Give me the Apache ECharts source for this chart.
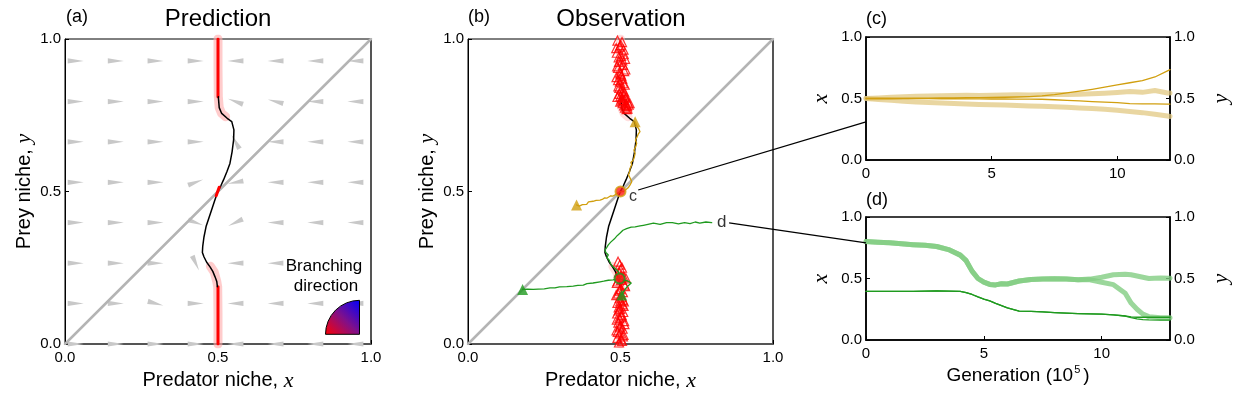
<!DOCTYPE html>
<html>
<head>
<meta charset="utf-8">
<script src="https://cdn.jsdelivr.net/npm/echarts@6/dist/echarts.min.js"></script>
<style>
html, body { margin: 0; padding: 0; background: #fff; }
#chart { width: 1233px; height: 398px; }
</style>
</head>
<body>
<div id="chart"></div>
<script>
// ---- values ----

// (a) wedge field: grid of columns / rows, angle in degrees (0 = points right)
var wedgeCols = [0.035, 0.166, 0.296, 0.427, 0.557, 0.688, 0.818, 0.949];
var wedgeRows = [0.928, 0.795, 0.663, 0.53, 0.398, 0.265, 0.133, 0.0];
var wedgeAngles = [
  [0, 0, 0, 0, 180, 180, 180, 180],
  [0, 0, 0, 0, 160, 165, 180, 180],
  [0, 0, 0, 0, 120, 180, 180, 180],
  [0, 0, 0, 20, 190, 180, 180, 180],
  [0, 0, 0, -20, 205, 180, 180, 180],
  [0, 0, 0, -65, 180, 180, 180, 180],
  [0, 0, -15, 0, 180, 180, 180, 180],
  [0, 0, 0, 0, 180, 180, 180, 180]
];

// singular curve (black), shared by (a) and (b)
var curveX = [0.501, 0.504, 0.512, 0.53, 0.545, 0.552, 0.551, 0.546, 0.539, 0.529, 0.518, 0.509, 0.499, 0.489, 0.479, 0.47, 0.461, 0.454, 0.45, 0.449, 0.454, 0.463, 0.474, 0.483, 0.49, 0.496, 0.498];
var curveY = [0.811, 0.775, 0.756, 0.74, 0.729, 0.702, 0.669, 0.63, 0.592, 0.565, 0.538, 0.518, 0.499, 0.47, 0.439, 0.412, 0.385, 0.35, 0.319, 0.3, 0.286, 0.268, 0.253, 0.238, 0.221, 0.205, 0.188];
var redTopY = [0.811, 1.0];
var redBotY = [0.0, 0.188];
var redLineX = [0.5, 0.5];
var redMidX = [0.494, 0.504];
var redMidY = [0.486, 0.514];
var pinkTopX = [0.5, 0.5, 0.501, 0.504, 0.512, 0.525];
var pinkTopY = [1.0, 0.9, 0.811, 0.775, 0.756, 0.745];
var pinkBotX = [0.475, 0.488, 0.496, 0.499, 0.5, 0.5];
var pinkBotY = [0.255, 0.235, 0.205, 0.188, 0.1, 0.0];
var diagX = [0, 1];
var diagY = [0, 1];

// (b) red open triangles
var triTopX = [0.49, 0.505, 0.497, 0.51, 0.488, 0.502, 0.515, 0.495, 0.508, 0.492, 0.512, 0.5, 0.487, 0.506, 0.498, 0.514, 0.493, 0.503, 0.509, 0.496, 0.511, 0.49, 0.504, 0.513, 0.499, 0.507, 0.518, 0.51, 0.522, 0.515, 0.527, 0.52, 0.53, 0.524,
  0.501, 0.486, 0.511, 0.494, 0.506, 0.489, 0.516, 0.498, 0.503, 0.492, 0.509, 0.496, 0.513, 0.5, 0.518, 0.505, 0.523, 0.512];
var triTopY = [0.995, 0.99, 0.975, 0.965, 0.955, 0.945, 0.935, 0.925, 0.915, 0.905, 0.895, 0.885, 0.875, 0.87, 0.86, 0.85, 0.845, 0.835, 0.83, 0.82, 0.815, 0.81, 0.805, 0.8, 0.795, 0.79, 0.785, 0.8, 0.78, 0.775, 0.785, 0.77, 0.79, 0.795,
  0.98, 0.97, 0.95, 0.94, 0.93, 0.91, 0.9, 0.89, 0.88, 0.865, 0.855, 0.84, 0.825, 0.812, 0.808, 0.798, 0.772, 0.782];
var triBotX = [0.495, 0.505, 0.49, 0.51, 0.498, 0.487, 0.507, 0.5, 0.493, 0.512, 0.496, 0.503, 0.489, 0.509, 0.499, 0.494, 0.506, 0.49, 0.511, 0.497, 0.504, 0.492, 0.508, 0.5, 0.515, 0.488, 0.502, 0.51, 0.495, 0.505, 0.498, 0.492,
  0.502, 0.491, 0.508, 0.497, 0.513, 0.488, 0.504, 0.494, 0.51, 0.499, 0.486, 0.507, 0.496, 0.512, 0.49, 0.503, 0.518, 0.5];
var triBotY = [0.005, 0.01, 0.02, 0.03, 0.035, 0.045, 0.05, 0.06, 0.07, 0.075, 0.085, 0.09, 0.1, 0.105, 0.115, 0.12, 0.13, 0.135, 0.14, 0.15, 0.155, 0.165, 0.17, 0.18, 0.19, 0.2, 0.21, 0.22, 0.235, 0.25, 0.26, 0.27,
  0.015, 0.04, 0.025, 0.055, 0.065, 0.08, 0.095, 0.11, 0.125, 0.14, 0.16, 0.145, 0.175, 0.195, 0.205, 0.225, 0.215, 0.245];

// (b) gold trajectory, two branches from (0.5, 0.5)
var goldAX = [0.498, 0.49, 0.484, 0.476, 0.468, 0.455, 0.448, 0.44, 0.433, 0.42, 0.41, 0.405, 0.395, 0.392, 0.389, 0.375, 0.365, 0.356];
var goldAY = [0.499, 0.494, 0.491, 0.485, 0.486, 0.478, 0.479, 0.474, 0.472, 0.471, 0.468, 0.467, 0.466, 0.46, 0.458, 0.457, 0.452, 0.456];
var goldBX = [0.498, 0.51, 0.515, 0.525, 0.531, 0.537, 0.532, 0.526, 0.53, 0.531, 0.537, 0.534, 0.542, 0.545, 0.548, 0.544, 0.55, 0.553, 0.549, 0.555, 0.558, 0.564, 0.56, 0.555, 0.552, 0.548];
var goldBY = [0.499, 0.5, 0.505, 0.512, 0.521, 0.532, 0.543, 0.555, 0.565, 0.575, 0.588, 0.595, 0.603, 0.612, 0.625, 0.636, 0.647, 0.658, 0.669, 0.68, 0.688, 0.696, 0.705, 0.712, 0.72, 0.729];
var goldEndX = [0.356, 0.548];
var goldEndY = [0.456, 0.729];

// (b) green trajectory: from (0.8, 0.4) down to branching point, then two branches
var greenX = [0.799, 0.78, 0.76, 0.745, 0.728, 0.71, 0.69, 0.67, 0.651, 0.63, 0.608, 0.59, 0.575, 0.564, 0.548, 0.535, 0.52, 0.508, 0.498, 0.49, 0.482, 0.476, 0.468, 0.46, 0.455, 0.449, 0.452, 0.46, 0.455, 0.462, 0.46, 0.468, 0.476, 0.485, 0.493, 0.496];
var greenY = [0.398, 0.4, 0.396, 0.4, 0.395, 0.398, 0.394, 0.398, 0.398, 0.392, 0.396, 0.392, 0.389, 0.387, 0.384, 0.383, 0.378, 0.373, 0.363, 0.356, 0.347, 0.341, 0.334, 0.325, 0.317, 0.308, 0.3, 0.292, 0.283, 0.276, 0.27, 0.262, 0.253, 0.245, 0.237, 0.215];
var greenAX = [0.496, 0.485, 0.476, 0.46, 0.445, 0.433, 0.41, 0.39, 0.378, 0.36, 0.345, 0.324, 0.3, 0.285, 0.269, 0.25, 0.23, 0.214, 0.195, 0.179];
var greenAY = [0.215, 0.213, 0.21, 0.209, 0.206, 0.204, 0.2, 0.198, 0.193, 0.192, 0.19, 0.188, 0.187, 0.184, 0.184, 0.181, 0.18, 0.179, 0.18, 0.179];
var greenBX = [0.496, 0.51, 0.525, 0.535, 0.531, 0.52, 0.512, 0.504];
var greenBY = [0.215, 0.21, 0.206, 0.2, 0.195, 0.186, 0.175, 0.161];
var greenEndX = [0.179, 0.504];
var greenEndY = [0.179, 0.161];

// branching points (red dots)
var branchX = [0.5, 0.497];
var branchY = [0.5, 0.215];

// labels c / d and the leader lines to panels (c), (d)
var labelC = [0.541, 0.482];
var labelD = [0.832, 0.398];
var leadC = [[0.558, 0.505], [0, 0.31]];
var leadD = [[0.856, 0.397], [0, 0.79]];

// (c) time series, generation in 1e5
var tC = [0, 0.5, 1, 1.5, 2, 2.5, 3, 3.5, 4, 4.5, 5, 5.5, 6, 6.5, 7, 7.5, 8, 8.5, 9, 9.5, 10, 10.5, 11, 11.5, 12, 12.1];
var cXUp = [0.5, 0.505, 0.51, 0.515, 0.518, 0.52, 0.522, 0.524, 0.526, 0.525, 0.527, 0.528, 0.53, 0.529, 0.53, 0.532, 0.533, 0.535, 0.538, 0.542, 0.548, 0.556, 0.55, 0.565, 0.545, 0.545];
var cXLo = [0.5, 0.492, 0.485, 0.478, 0.472, 0.468, 0.464, 0.46, 0.456, 0.452, 0.45, 0.447, 0.443, 0.44, 0.437, 0.432, 0.428, 0.423, 0.418, 0.412, 0.404, 0.395, 0.385, 0.372, 0.358, 0.354];
var cYUp = [0.5, 0.5, 0.5, 0.501, 0.502, 0.503, 0.504, 0.505, 0.506, 0.507, 0.508, 0.51, 0.512, 0.516, 0.522, 0.532, 0.545, 0.56, 0.575, 0.592, 0.61, 0.628, 0.645, 0.675, 0.725, 0.735];
var cYLo = [0.5, 0.5, 0.5, 0.5, 0.499, 0.499, 0.498, 0.498, 0.497, 0.497, 0.496, 0.496, 0.495, 0.495, 0.494, 0.49, 0.485, 0.48, 0.475, 0.47, 0.466, 0.458, 0.456, 0.456, 0.455, 0.455];

// (d) time series
var tD = [0, 0.5, 1, 1.5, 2, 2.5, 3, 3.5, 4, 4.25, 4.5, 4.75, 5, 5.25, 5.5, 5.75, 6, 6.5, 7, 7.5, 8, 8.5, 9, 9.5, 10, 10.5, 11, 11.25, 11.5, 11.75, 12, 12.5, 12.9];
var dXUp = [0.8, 0.795, 0.79, 0.782, 0.775, 0.77, 0.76, 0.735, 0.69, 0.645, 0.56, 0.5, 0.47, 0.452, 0.448, 0.457, 0.455, 0.48, 0.492, 0.495, 0.497, 0.495, 0.49, 0.495, 0.51, 0.53, 0.535, 0.53, 0.52, 0.51, 0.5, 0.505, 0.503];
var dXLo = [0.8, 0.795, 0.79, 0.782, 0.775, 0.77, 0.76, 0.735, 0.69, 0.645, 0.56, 0.5, 0.47, 0.452, 0.448, 0.457, 0.455, 0.48, 0.492, 0.495, 0.497, 0.495, 0.49, 0.49, 0.47, 0.45, 0.38, 0.3, 0.25, 0.21, 0.19, 0.18, 0.18];
var dYUp = [0.395, 0.395, 0.395, 0.396, 0.396, 0.397, 0.4, 0.398, 0.395, 0.385, 0.37, 0.35, 0.332, 0.318, 0.298, 0.28, 0.262, 0.235, 0.232, 0.228, 0.222, 0.218, 0.214, 0.212, 0.21, 0.205, 0.195, 0.188, 0.185, 0.185, 0.185, 0.185, 0.185];
var dYLo = [0.395, 0.395, 0.395, 0.396, 0.396, 0.397, 0.4, 0.398, 0.395, 0.385, 0.37, 0.35, 0.332, 0.318, 0.298, 0.28, 0.262, 0.235, 0.232, 0.228, 0.222, 0.218, 0.214, 0.212, 0.21, 0.205, 0.195, 0.182, 0.172, 0.166, 0.163, 0.162, 0.162];

var SANS = 'Liberation Sans';
var SERIF = 'Liberation Serif';
var GOLD = '#d19f0f';
var GOLD_LIGHT = 'rgba(226,200,130,0.75)';
var GREEN = '#1f9a1f';
var GREEN_LIGHT = 'rgba(130,205,130,0.8)';
var PINK = 'rgba(255,170,170,0.6)';

function pairs(xs, ys) {
  return xs.map(function (x, i) { return [x, ys[i]]; });
}

function line(idx, yIdx, data, color, width, z) {
  return {
    type: 'line', xAxisIndex: idx, yAxisIndex: yIdx, data: data,
    showSymbol: false, symbol: 'none', silent: true, z: z || 2,
    lineStyle: { color: color, width: width, cap: 'round', join: 'round' }
  };
}

var tick = function (v) { return v.toFixed(1); };

function unitX(gi) {
  return {
    gridIndex: gi, type: 'value', min: 0, max: 1, interval: 0.5,
    name: '{a|Predator niche, }{i|x}', nameLocation: 'middle', nameGap: 22,
    nameTextStyle: { rich: {
      a: { fontFamily: SANS, fontSize: 20, color: '#000' },
      i: { fontFamily: SERIF, fontStyle: 'italic', fontSize: 22, color: '#000' } } },
    axisLine: { onZero: false, lineStyle: { color: '#555', width: 2 } },
    axisTick: { inside: true, length: 4, lineStyle: { color: '#000' } },
    axisLabel: { formatter: tick, fontFamily: SANS, fontSize: 15, color: '#000', margin: 6 },
    splitLine: { show: false }
  };
}

function unitY(gi) {
  return {
    gridIndex: gi, type: 'value', min: 0, max: 1, interval: 0.5,
    name: '{a|Prey niche, }{i|y}', nameLocation: 'middle', nameGap: 30,
    nameTextStyle: { rich: {
      a: { fontFamily: SANS, fontSize: 20, color: '#000' },
      i: { fontFamily: SERIF, fontStyle: 'italic', fontSize: 22, color: '#000' } } },
    axisLine: { onZero: false, lineStyle: { color: '#000', width: 1 } },
    axisTick: { inside: true, length: 4, lineStyle: { color: '#000' } },
    axisLabel: { formatter: tick, fontFamily: SANS, fontSize: 15, color: '#000', margin: 4 },
    splitLine: { show: false }
  };
}

function rightBorder(gi) {
  return {
    gridIndex: gi, type: 'value', min: 0, max: 1, position: 'right',
    axisLine: { show: true, onZero: false, lineStyle: { color: '#555', width: 2 } },
    axisTick: { show: false }, axisLabel: { show: false }, splitLine: { show: false }
  };
}

function timeX(gi, max, withName) {
  var ax = {
    gridIndex: gi, type: 'value', min: 0, max: max, interval: 5,
    axisLine: { onZero: false, lineStyle: { color: '#000', width: 1.5 } },
    axisTick: { inside: true, length: 4, lineStyle: { color: '#000' } },
    axisLabel: {
      formatter: function (v) { return v % 5 === 0 ? String(v) : ''; },
      showMaxLabel: false, fontFamily: SANS, fontSize: 15, color: '#000', margin: 6 },
    splitLine: { show: false }
  };
  if (withName) {
    ax.name = '{a|Generation (10}{s|5}{a|)}';
    ax.nameLocation = 'middle';
    ax.nameGap = 24;
    ax.nameTextStyle = { rich: {
      a: { fontFamily: SANS, fontSize: 19, color: '#000', lineHeight: 24 },
      s: { fontFamily: SANS, fontSize: 11, color: '#000', verticalAlign: 'top', padding: [0, 3, 0, 1] } } };
  }
  return ax;
}

function timeY(gi, pos, label) {
  return {
    gridIndex: gi, type: 'value', min: 0, max: 1, interval: 0.5, position: pos,
    name: label, nameLocation: 'middle', nameGap: pos === 'left' ? 34 : 40,
    nameTextStyle: { fontFamily: SERIF, fontStyle: 'italic', fontSize: 22, color: '#000' },
    axisLine: { show: true, onZero: false, lineStyle: { color: '#000', width: 1.5 } },
    axisTick: { inside: true, length: 4, lineStyle: { color: '#000' } },
    axisLabel: { formatter: tick, fontFamily: SANS, fontSize: 15, color: '#000', margin: 4 },
    splitLine: { show: false }
  };
}

// wedge field data
var wedgeData = [];
wedgeRows.forEach(function (y, r) {
  wedgeCols.forEach(function (x, c) { wedgeData.push([x, y, wedgeAngles[r][c]]); });
});

function renderWedge(params, api) {
  var p = api.coord([api.value(0), api.value(1)]);
  var a = api.value(2) * Math.PI / 180;
  var dx = Math.cos(a), dy = -Math.sin(a);
  var L = 16, W = 2.6;
  var tx = p[0] - dx * L / 2, ty = p[1] - dy * L / 2;
  return {
    type: 'polygon',
    shape: { points: [[tx - dy * W, ty + dx * W], [tx + dy * W, ty - dx * W], [p[0] + dx * L / 2, p[1] + dy * L / 2]] },
    style: { fill: '#c8c8c8' }
  };
}

var redTri = {
  type: 'scatter', xAxisIndex: 1, yAxisIndex: 1, symbol: 'triangle', symbolSize: 9, z: 4,
  itemStyle: { color: 'rgba(255,255,255,0)', borderColor: '#ff0000', borderWidth: 1.2 },
  data: pairs(triTopX, triTopY).concat(pairs(triBotX, triBotY))
};

var option = {
  animation: false,
  backgroundColor: '#fff',
  grid: [
    { left: 65, top: 39, width: 306, height: 305, show: true, borderColor: '#000', borderWidth: 1 },
    { left: 468, top: 39, width: 305, height: 305, show: true, borderColor: '#000', borderWidth: 1 },
    { left: 866, top: 37, width: 306, height: 123, show: true, borderColor: '#000', borderWidth: 1.5 },
    { left: 866, top: 217, width: 306, height: 123, show: true, borderColor: '#000', borderWidth: 1.5 }
  ],
  xAxis: [unitX(0), unitX(1), timeX(2, 12.1, false), timeX(3, 12.9, true)],
  yAxis: [unitY(0), unitY(1), timeY(2, 'left', 'x'), timeY(3, 'left', 'x'),
          timeY(2, 'right', 'y'), timeY(3, 'right', 'y'), rightBorder(0), rightBorder(1)],
  series: [
    // (a)
    { type: 'custom', xAxisIndex: 0, yAxisIndex: 0, renderItem: renderWedge, data: wedgeData, z: 1, silent: true },
    line(0, 0, pairs(diagX, diagY), '#b4b4b4', 2.5, 2),
    line(0, 0, pairs(pinkTopX, pinkTopY), PINK, 9, 3),
    line(0, 0, pairs(pinkBotX, pinkBotY), PINK, 9, 3),
    line(0, 0, pairs(redLineX, redTopY), '#ff0000', 3, 4),
    line(0, 0, pairs(redLineX, redBotY), '#ff0000', 3, 4),
    line(0, 0, pairs(curveX, curveY), '#000', 1.5, 5),
    line(0, 0, pairs(redMidX, redMidY), '#ff0000', 3, 6),
    // (b)
    line(1, 1, pairs(diagX, diagY), '#b4b4b4', 2.5, 2),
    line(1, 1, pairs(pinkTopX, pinkTopY), 'rgba(255,190,190,0.5)', 9, 2),
    line(1, 1, pairs(pinkBotX, pinkBotY), 'rgba(255,190,190,0.5)', 9, 2),
    line(1, 1, pairs(curveX, curveY), '#000', 1.5, 3),
    redTri,
    line(1, 1, pairs(goldAX, goldAY), GOLD, 1.3, 5),
    line(1, 1, pairs(goldBX, goldBY), GOLD, 1.3, 5),
    line(1, 1, pairs(greenX, greenY), GREEN, 1.3, 5),
    line(1, 1, pairs(greenAX, greenAY), GREEN, 1.3, 5),
    line(1, 1, pairs(greenBX, greenBY), GREEN, 1.3, 5),
    { type: 'scatter', xAxisIndex: 1, yAxisIndex: 1, symbol: 'triangle', symbolSize: 11, z: 6,
      itemStyle: { color: GOLD }, data: pairs(goldEndX, goldEndY) },
    { type: 'scatter', xAxisIndex: 1, yAxisIndex: 1, symbol: 'triangle', symbolSize: 11, z: 6,
      itemStyle: { color: GREEN }, data: pairs(greenEndX, greenEndY) },
    { type: 'scatter', xAxisIndex: 1, yAxisIndex: 1, symbol: 'circle', symbolSize: 10, z: 7,
      itemStyle: { color: '#ff1a1a', borderColor: GOLD, borderWidth: 2 }, data: [[branchX[0], branchY[0]]] },
    { type: 'scatter', xAxisIndex: 1, yAxisIndex: 1, symbol: 'circle', symbolSize: 10, z: 7,
      itemStyle: { color: '#ff1a1a', borderColor: GREEN, borderWidth: 2 }, data: [[branchX[1], branchY[1]]] },
    { type: 'scatter', xAxisIndex: 1, yAxisIndex: 1, symbolSize: 0, z: 8,
      label: { show: true, position: 'inside', formatter: 'c', fontFamily: SANS, fontSize: 16, color: '#000' },
      data: [labelC] },
    { type: 'scatter', xAxisIndex: 1, yAxisIndex: 1, symbolSize: 0, z: 8,
      label: { show: true, position: 'inside', formatter: 'd', fontFamily: SANS, fontSize: 17, color: '#000' },
      data: [labelD] },
    // (c)
    line(2, 2, pairs(tC, cXUp), GOLD_LIGHT, 5, 2),
    line(2, 2, pairs(tC, cXLo), GOLD_LIGHT, 5, 2),
    line(2, 2, pairs(tC, cYUp), GOLD, 1.3, 3),
    line(2, 2, pairs(tC, cYLo), GOLD, 1.3, 3),
    // (d)
    line(3, 3, pairs(tD, dXUp), GREEN_LIGHT, 5, 2),
    line(3, 3, pairs(tD, dXLo), GREEN_LIGHT, 5, 2),
    line(3, 3, pairs(tD, dYUp), GREEN, 1.3, 3),
    line(3, 3, pairs(tD, dYLo), GREEN, 1.3, 3)
  ],
  graphic: [
    { type: 'text', id: 'la', left: 66, top: 8, style: { text: '(a)', font: '18px ' + SANS, fill: '#000' } },
    { type: 'text', id: 'ta', x: 218, y: 19, style: { text: 'Prediction', font: '24px ' + SANS, fill: '#000', align: 'center', verticalAlign: 'middle' } },
    { type: 'text', id: 'lb', left: 468, top: 8, style: { text: '(b)', font: '18px ' + SANS, fill: '#000' } },
    { type: 'text', id: 'tb', x: 621, y: 19, style: { text: 'Observation', font: '24px ' + SANS, fill: '#000', align: 'center', verticalAlign: 'middle' } },
    { type: 'text', id: 'lc', left: 866, top: 10, style: { text: '(c)', font: '18px ' + SANS, fill: '#000' } },
    { type: 'text', id: 'ld', left: 866, top: 191, style: { text: '(d)', font: '18px ' + SANS, fill: '#000' } },
    { type: 'text', id: 'br1', x: 324, y: 266, z: 10, style: { text: 'Branching', font: '17px ' + SANS, fill: '#000', align: 'center', verticalAlign: 'middle', backgroundColor: '#fff', padding: [0, 2] } },
    { type: 'text', id: 'br2', x: 326, y: 286, z: 10, style: { text: 'direction', font: '17px ' + SANS, fill: '#000', align: 'center', verticalAlign: 'middle', backgroundColor: '#fff', padding: [0, 2] } },
    { type: 'sector', id: 'key', z: 10,
      shape: { cx: 359.5, cy: 334.3, r: 34, r0: 0, startAngle: Math.PI, endAngle: Math.PI * 1.5, clockwise: true },
      style: {
        fill: new echarts.graphic.LinearGradient(0, 1, 1, 0, [
          { offset: 0, color: '#ff0000' }, { offset: 0.5, color: '#80108a' }, { offset: 1, color: '#0000ff' }]),
        stroke: '#000', lineWidth: 1 } }
  ]
};

var myChart = echarts.init(document.getElementById('chart'), null, { renderer: 'canvas' });
myChart.setOption(option);

// leader lines from the labels in (b) to the left edge of (c) and (d)
var c0 = myChart.convertToPixel({ xAxisIndex: 1, yAxisIndex: 1 }, leadC[0]);
var c1 = myChart.convertToPixel({ xAxisIndex: 2, yAxisIndex: 2 }, leadC[1]);
var d0 = myChart.convertToPixel({ xAxisIndex: 1, yAxisIndex: 1 }, leadD[0]);
var d1 = myChart.convertToPixel({ xAxisIndex: 3, yAxisIndex: 3 }, leadD[1]);
myChart.setOption({
  graphic: [
    { type: 'line', id: 'leadC', z: 100, shape: { x1: c0[0], y1: c0[1], x2: c1[0], y2: c1[1] }, style: { stroke: '#000', lineWidth: 1.2 } },
    { type: 'line', id: 'leadD', z: 100, shape: { x1: d0[0], y1: d0[1], x2: d1[0], y2: d1[1] }, style: { stroke: '#000', lineWidth: 1.2 } }
  ]
});
</script>
</body>
</html>
